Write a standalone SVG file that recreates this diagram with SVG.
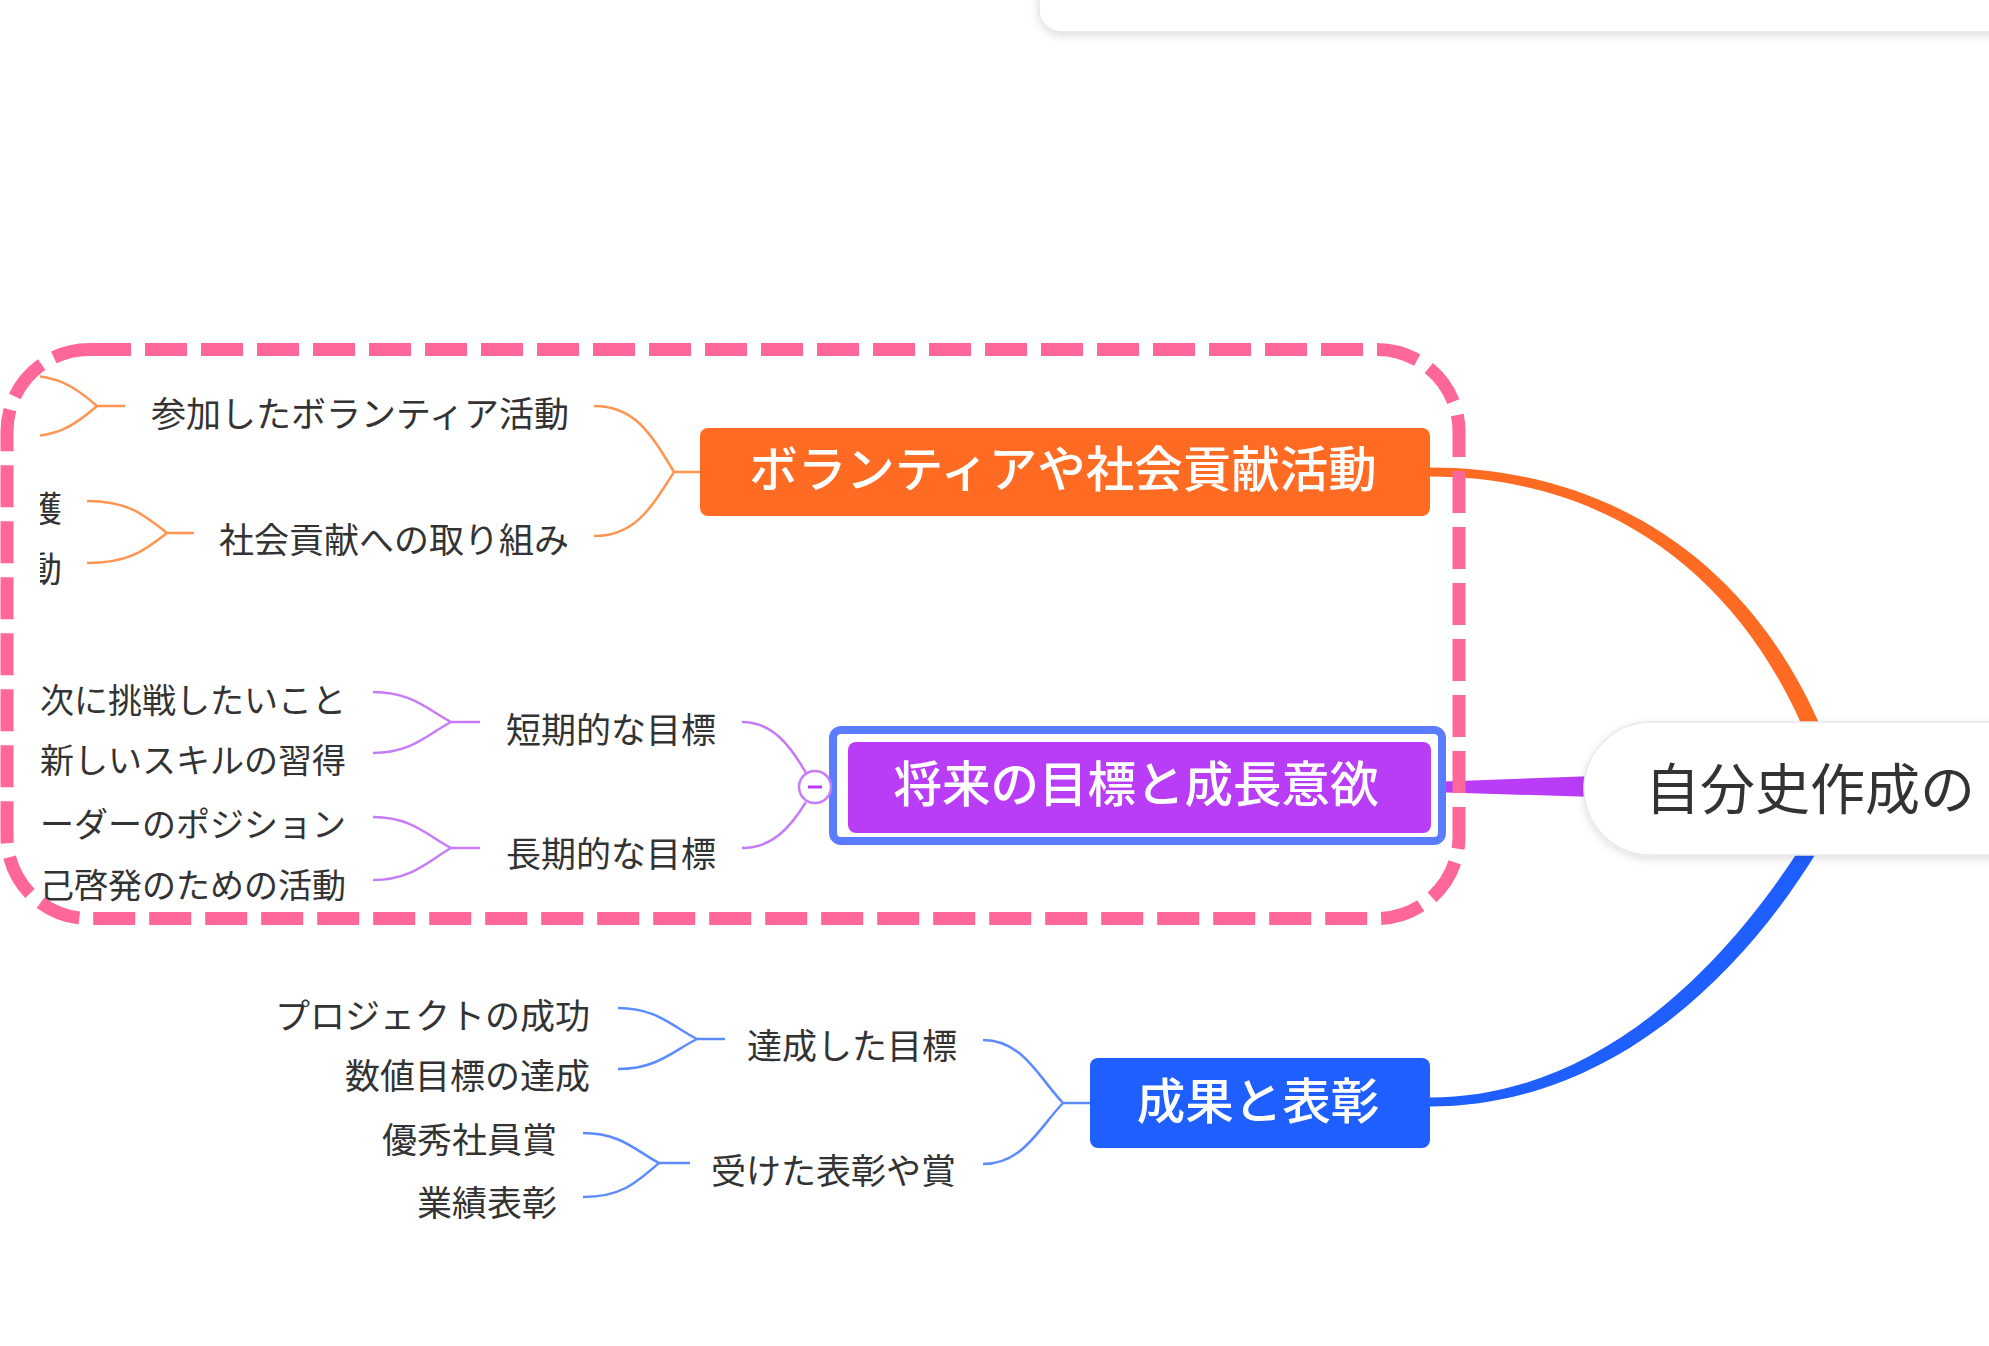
<svg xmlns="http://www.w3.org/2000/svg" width="1989" height="1346" viewBox="0 0 1989 1346">
<style>
.t{font-family:"Noto Sans CJK JP","Noto Sans",sans-serif;dominant-baseline:central}
.child{font-size:35px;fill:#333;text-anchor:end}
.pch{font-size:34px}
.main{font-size:48.5px;fill:#fff;text-anchor:middle;font-weight:500}
.oc{stroke:#FF9550;stroke-width:2.5;fill:none}
.pc{stroke:#C77BF7;stroke-width:2.5;fill:none}
.bc{stroke:#5B8BFF;stroke-width:2.5;fill:none}
</style>
<defs>
<clipPath id="view"><rect x="40" y="0" width="1949" height="1346"/></clipPath>
<filter id="sh" x="-10%" y="-30%" width="120%" height="160%">
<feDropShadow dx="0" dy="3" stdDeviation="4" flood-color="#000" flood-opacity="0.13"/>
</filter>
</defs>
<rect width="1989" height="1346" fill="#fff"/>
<g id="top-node"><rect x="1039" y="-120" width="1200" height="152" rx="22" fill="#fff" stroke="#e6e6e6" stroke-width="1.5" filter="url(#sh)"/></g>
<g clip-path="url(#view)">
<g id="connectors">
<path d="M1430 467.5 C1603 467.5 1748 556 1822 730 L1804 730 C1732 564 1597 476.5 1430 476.5 Z" fill="#FF6B22"/>
<path d="M1430 1106.5 C1594 1106.5 1729 996 1818 850 L1799 850 C1712 984 1586 1097.5 1430 1097.5 Z" fill="#1F5EFF"/>
<path d="M1431 782 L1595 776 L1595 797 L1431 792 Z" fill="#B93CF6"/>
<path class="oc" d="M594 406 C634 406 650 432 674 472 M594 536 C634 536 650 510 674 472 M674 472 H700"/>
<path class="oc" d="M17 375 C57 375 73 385 97 406 M17 437 C57 437 73 427 97 406 M97 406 H125"/>
<path class="oc" d="M87 501 C127 501 143 514 167 533 M87 563 C127 563 143 552 167 533 M167 533 H194"/>
<path class="pc" d="M373 692 C412 692 428 710 451 722 M373 753 C412 753 428 734 451 722 M451 722 H480"/>
<path class="pc" d="M373 817 C412 817 428 836 451 848 M373 880 C412 880 428 861 451 848 M451 848 H480"/>
<path class="pc" d="M742 722 C772 722 790 745 806 773 M742 848 C772 848 790 828 806 802 M832 787 H848"/>
<path class="bc" d="M618 1008 C657 1008 673 1027 697 1039 M618 1069 C657 1069 673 1051 697 1039 M697 1039 H725"/>
<path class="bc" d="M583 1133 C621 1133 636 1151 659 1163 M583 1197 C621 1197 636 1183 659 1163 M659 1163 H690"/>
<path class="bc" d="M983 1040 C1023 1040 1039 1078 1063 1103 M983 1164 C1023 1164 1039 1128 1063 1103 M1063 1103 H1090"/>
</g>
<g id="node-volunteer">
<rect x="700" y="428" width="730" height="88" rx="8" fill="#FF6B22"/>
<text class="t main" x="1063" y="466">ボランティアや社会貢献活動</text>
</g>
<g id="node-v1"><text class="t child" x="569" y="411">参加したボランティア活動</text></g>
<g id="node-v2"><text class="t child" x="569" y="537">社会貢献への取り組み</text></g>
<g id="node-v21"><text class="t child" x="62" y="506">護</text></g>
<g id="node-v22"><text class="t child" x="62" y="566">動</text></g>
<g id="node-future">
<rect x="833" y="730" width="609" height="111" rx="8" fill="#fff" stroke="#5B7CFF" stroke-width="8"/>
<rect x="848" y="742" width="583" height="91" rx="8" fill="#B93CF6"/>
<text class="t main" x="1136" y="781">将来の目標と成長意欲</text>
<circle cx="815" cy="787" r="16" fill="#fff" stroke="#C77BF7" stroke-width="2.5"/>
<path d="M808 787 H822" stroke="#B93CF6" stroke-width="3"/>
</g>
<g id="node-f1"><text class="t child" x="716" y="727">短期的な目標</text></g>
<g id="node-f2"><text class="t child" x="716" y="851">長期的な目標</text></g>
<g id="node-f11"><text class="t child pch" x="346" y="698">次に挑戦したいこと</text></g>
<g id="node-f12"><text class="t child pch" x="346" y="758">新しいスキルの習得</text></g>
<g id="node-f21"><text class="t child pch" x="346" y="822">ーダーのポジション</text></g>
<g id="node-f22"><text class="t child pch" x="346" y="883">己啓発のための活動</text></g>
<g id="node-results">
<rect x="1090" y="1058" width="340" height="90" rx="8" fill="#1F5EFF"/>
<text class="t main" x="1258" y="1098">成果と表彰</text>
</g>
<g id="node-r1"><text class="t child" x="957" y="1043">達成した目標</text></g>
<g id="node-r2"><text class="t child" x="956" y="1168">受けた表彰や賞</text></g>
<g id="node-r11"><text class="t child" x="590" y="1013">プロジェクトの成功</text></g>
<g id="node-r12"><text class="t child" x="590" y="1073">数値目標の達成</text></g>
<g id="node-r21"><text class="t child" x="557" y="1137">優秀社員賞</text></g>
<g id="node-r22"><text class="t child" x="557" y="1200">業績表彰</text></g>
<g id="node-center">
<rect x="1584" y="722" width="700" height="133" rx="66.5" fill="#fff" stroke="#e8e8e8" stroke-width="1.5" filter="url(#sh)"/>
<text class="t" x="1645" y="785" font-size="55" fill="#333">自分史作成の</text>
</g>
</g>
<g id="selection-boundary">
<rect x="7" y="349.5" width="1452" height="569" rx="82" fill="none" stroke="#FF6699" stroke-width="13" stroke-dasharray="42 14"/>
</g>
</svg>
